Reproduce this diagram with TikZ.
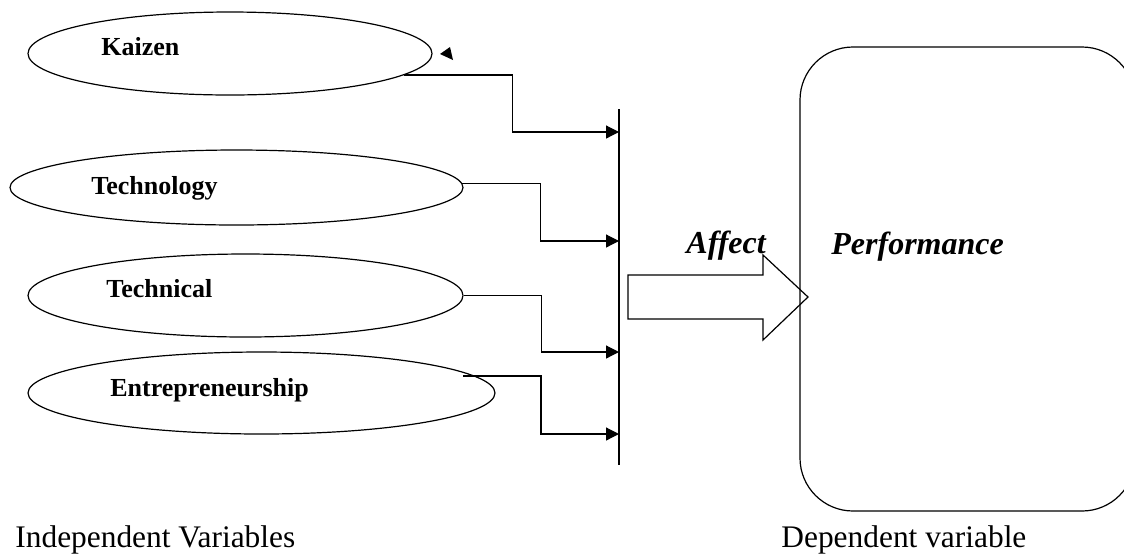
\documentclass[tikz,border=0pt]{standalone}
\usepackage{fontspec}
\setmainfont{Liberation Serif}
\usetikzlibrary{arrows.meta,positioning,shapes.geometric,calc}

\begin{document}
\begin{tikzpicture}[x=0.5pt, y=-0.5pt,
    var/.style={draw, ellipse, line width=0.6pt, inner sep=0pt},
    vartxt/.style={anchor=base west, inner sep=0pt, font=\fontsize{13}{15}\selectfont\bfseries},
    bigtxt/.style={anchor=base west, inner sep=0pt, font=\fontsize{16}{19}\selectfont\bfseries\itshape},
    captxt/.style={anchor=base west, inner sep=0pt, font=\fontsize{15.7}{18}\selectfont},
    feed/.style={draw, line width=0.6pt, -{Triangle[length=6.5pt,width=6.5pt]}},
    dep/.style={draw, line width=0.6pt, rounded corners=26.5pt, inner sep=0pt}
  ]
  \useasboundingbox (0,0) rectangle (1124,553);

  \node[var, minimum width=202pt, minimum height=41.5pt]   (kaizen)     at (230,53.5)    {};
  \node[var, minimum width=226.5pt, minimum height=37.5pt] (technology) at (236.5,187.5) {};
  \node[var, minimum width=217.5pt, minimum height=41.5pt] (technical)  at (245.5,295.5) {};
  \node[var, minimum width=233.5pt, minimum height=41pt]   (entrep)     at (261.5,393)   {};

  \node[vartxt] (kaizentxt) at (101,55)  {Kaizen};
  \node[vartxt] (techntxt)  at (91,194)  {Technology};
  \node[vartxt] (techltxt)  at (106,297) {Technical};
  \node[vartxt] (entrtxt)   at (110,396) {Entrepreneurship};

  \fill (440,54) -- (450,47) -- (453,60) -- cycle;

  \coordinate (bartop) at (619,109);
  \coordinate (barbot) at (619,465);
  \coordinate (kin)    at (619,132);
  \coordinate (tgin)   at (619,241);
  \coordinate (tcin)   at (619,352);
  \coordinate (ein)    at (619,434);
  \coordinate (estart) at (463,376);
  \draw[line width=1pt] (bartop) -- (barbot);

  \draw[feed] (kaizen.-7)     -- ++(108,0) |- (kin);
  \draw[feed] (technology.1)  -- ++(78,0)  |- (tgin);
  \draw[feed] (technical.east) -- ++(78,0) |- (tcin);
  \draw[feed] (estart)        -- ++(78,0)  |- (ein);

  \draw[line width=0.6pt] (628,275) -- (763,275) -- (763,255) -- (808,297)
    -- (763,340) -- (763,319) -- (628,319) -- cycle;
  \node[bigtxt] (affect) at (686,253) {Affect};

  \node[dep, minimum width=167.5pt, minimum height=232pt] (perf) at (967.5,279) {};
  \node[bigtxt] (perftxt) at (831,254) {Performance};

  \node[captxt] (indep) at (15,547)  {Independent Variables};
  \node[captxt] (depv)  at (781,547) {Dependent variable};
\end{tikzpicture}
\end{document}
